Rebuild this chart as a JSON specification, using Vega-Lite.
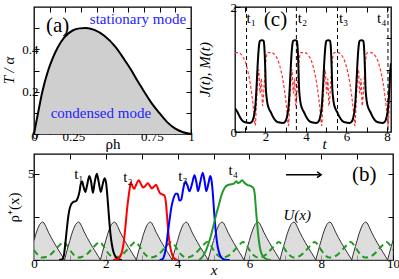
{
"$schema": "https://vega.github.io/schema/vega-lite/v6.json",
"padding": {"left": 0, "top": 0, "right": 0, "bottom": 0},
"background": "white",
"config": {
  "view": {"stroke": "black", "strokeWidth": 1.3},
  "font": "Liberation Serif",
  "axis": {"domain": false, "grid": false, "tickSize": -5, "tickColor": "black", "tickWidth": 1, "labelFont": "Liberation Serif", "labelFontSize": 13, "labelColor": "black", "labelPadding": 2, "titleFont": "Liberation Serif", "titleFontSize": 15, "titleFontWeight": "normal", "titleColor": "black", "labelOverlap": false, "labelFlush": false}
},
"datasets": {
  "phase": [{"x":0,"y":0},{"x":0.01,"y":0.04},{"x":0.026,"y":0.1},{"x":0.053,"y":0.2},{"x":0.09,"y":0.3},{"x":0.12,"y":0.36},{"x":0.151,"y":0.409},{"x":0.193,"y":0.457},{"x":0.246,"y":0.489},{"x":0.29,"y":0.499},{"x":0.33,"y":0.501},{"x":0.384,"y":0.492},{"x":0.448,"y":0.464},{"x":0.52,"y":0.41},{"x":0.575,"y":0.352},{"x":0.621,"y":0.3},{"x":0.66,"y":0.25},{"x":0.702,"y":0.2},{"x":0.75,"y":0.145},{"x":0.798,"y":0.1},{"x":0.85,"y":0.055},{"x":0.9,"y":0.025},{"x":0.95,"y":0.008},{"x":1,"y":0}],
  "J": [{"x":0.5,"y":0.38},{"x":0.62,"y":0.32},{"x":0.74,"y":0.24},{"x":0.87,"y":0.18},{"x":1.01,"y":0.155},{"x":1.14,"y":0.147},{"x":1.23,"y":0.145},{"x":1.31,"y":0.155},{"x":1.38,"y":0.19},{"x":1.43,"y":0.25},{"x":1.48,"y":0.34},{"x":1.52,"y":0.48},{"x":1.56,"y":0.7},{"x":1.61,"y":1.02},{"x":1.66,"y":1.29},{"x":1.7,"y":1.42},{"x":1.73,"y":1.46},{"x":1.83,"y":1.47},{"x":1.91,"y":1.46},{"x":1.94,"y":1.4},{"x":1.97,"y":1.22},{"x":2.0,"y":0.95},{"x":2.02,"y":0.72},{"x":2.06,"y":0.55},{"x":2.11,"y":0.44},{"x":2.18,"y":0.37},{"x":2.26,"y":0.32},{"x":2.38,"y":0.24},{"x":2.51,"y":0.18},{"x":2.65,"y":0.155},{"x":2.78,"y":0.147},{"x":2.87,"y":0.145},
    {"x":2.95,"y":0.155},{"x":3.02,"y":0.19},{"x":3.07,"y":0.25},{"x":3.12,"y":0.34},{"x":3.16,"y":0.48},{"x":3.2,"y":0.7},{"x":3.25,"y":1.02},{"x":3.3,"y":1.29},{"x":3.34,"y":1.42},{"x":3.37,"y":1.46},{"x":3.47,"y":1.47},{"x":3.55,"y":1.46},{"x":3.58,"y":1.4},{"x":3.61,"y":1.22},{"x":3.64,"y":0.95},{"x":3.66,"y":0.72},{"x":3.7,"y":0.55},{"x":3.75,"y":0.44},{"x":3.82,"y":0.37},{"x":3.9,"y":0.32},{"x":4.02,"y":0.24},{"x":4.15,"y":0.18},{"x":4.29,"y":0.155},{"x":4.42,"y":0.147},{"x":4.51,"y":0.145},
    {"x":4.59,"y":0.155},{"x":4.66,"y":0.19},{"x":4.71,"y":0.25},{"x":4.76,"y":0.34},{"x":4.8,"y":0.48},{"x":4.84,"y":0.7},{"x":4.89,"y":1.02},{"x":4.94,"y":1.29},{"x":4.98,"y":1.42},{"x":5.01,"y":1.46},{"x":5.11,"y":1.47},{"x":5.19,"y":1.46},{"x":5.22,"y":1.4},{"x":5.25,"y":1.22},{"x":5.28,"y":0.95},{"x":5.3,"y":0.72},{"x":5.34,"y":0.55},{"x":5.39,"y":0.44},{"x":5.46,"y":0.37},{"x":5.54,"y":0.32},{"x":5.66,"y":0.24},{"x":5.79,"y":0.18},{"x":5.93,"y":0.155},{"x":6.06,"y":0.147},{"x":6.15,"y":0.145},
    {"x":6.23,"y":0.155},{"x":6.3,"y":0.19},{"x":6.35,"y":0.25},{"x":6.4,"y":0.34},{"x":6.44,"y":0.48},{"x":6.48,"y":0.7},{"x":6.53,"y":1.02},{"x":6.58,"y":1.29},{"x":6.62,"y":1.42},{"x":6.65,"y":1.46},{"x":6.75,"y":1.47},{"x":6.83,"y":1.46},{"x":6.86,"y":1.4},{"x":6.89,"y":1.22},{"x":6.92,"y":0.95},{"x":6.94,"y":0.72},{"x":6.98,"y":0.55},{"x":7.03,"y":0.44},{"x":7.1,"y":0.37},{"x":7.18,"y":0.32},{"x":7.3,"y":0.24},{"x":7.43,"y":0.18},{"x":7.57,"y":0.155},{"x":7.7,"y":0.147},{"x":7.79,"y":0.145},
    {"x":7.87,"y":0.155},{"x":7.94,"y":0.19},{"x":7.99,"y":0.25},{"x":8.04,"y":0.34},{"x":8.08,"y":0.48},{"x":8.12,"y":0.7},{"x":8.16,"y":0.95},{"x":8.2,"y":1.1}],
  "M": [{"x":0.5,"y":1.27},{"x":0.66,"y":1.27},{"x":0.86,"y":1.22},{"x":1.01,"y":1.12},{"x":1.13,"y":0.98},{"x":1.24,"y":0.8},{"x":1.33,"y":0.6},{"x":1.41,"y":0.38},{"x":1.46,"y":0.2},{"x":1.5,"y":0.1},
    {"x":1.55,"y":0.4},{"x":1.6,"y":0.72},{"x":1.67,"y":1.0},{"x":1.74,"y":0.62},{"x":1.8,"y":0.85},{"x":1.86,"y":0.42},{"x":1.93,"y":0.7},{"x":2.0,"y":1.05},{"x":2.06,"y":1.22},{"x":2.12,"y":1.27},{"x":2.3,"y":1.27},{"x":2.5,"y":1.22},{"x":2.65,"y":1.12},{"x":2.77,"y":0.98},{"x":2.88,"y":0.8},{"x":2.97,"y":0.6},{"x":3.05,"y":0.38},{"x":3.1,"y":0.2},{"x":3.14,"y":0.1},
    {"x":3.19,"y":0.4},{"x":3.24,"y":0.72},{"x":3.31,"y":1.0},{"x":3.38,"y":0.62},{"x":3.44,"y":0.85},{"x":3.5,"y":0.42},{"x":3.57,"y":0.7},{"x":3.64,"y":1.05},{"x":3.7,"y":1.22},{"x":3.76,"y":1.27},{"x":3.94,"y":1.27},{"x":4.14,"y":1.22},{"x":4.29,"y":1.12},{"x":4.41,"y":0.98},{"x":4.52,"y":0.8},{"x":4.61,"y":0.6},{"x":4.69,"y":0.38},{"x":4.74,"y":0.2},{"x":4.78,"y":0.1},
    {"x":4.83,"y":0.4},{"x":4.88,"y":0.72},{"x":4.95,"y":1.0},{"x":5.02,"y":0.62},{"x":5.08,"y":0.85},{"x":5.14,"y":0.42},{"x":5.21,"y":0.7},{"x":5.28,"y":1.05},{"x":5.34,"y":1.22},{"x":5.4,"y":1.27},{"x":5.58,"y":1.27},{"x":5.78,"y":1.22},{"x":5.93,"y":1.12},{"x":6.05,"y":0.98},{"x":6.16,"y":0.8},{"x":6.25,"y":0.6},{"x":6.33,"y":0.38},{"x":6.38,"y":0.2},{"x":6.42,"y":0.1},
    {"x":6.47,"y":0.4},{"x":6.52,"y":0.72},{"x":6.59,"y":1.0},{"x":6.66,"y":0.62},{"x":6.72,"y":0.85},{"x":6.78,"y":0.42},{"x":6.85,"y":0.7},{"x":6.92,"y":1.05},{"x":6.98,"y":1.22},{"x":7.04,"y":1.27},{"x":7.22,"y":1.27},{"x":7.42,"y":1.22},{"x":7.57,"y":1.12},{"x":7.69,"y":0.98},{"x":7.8,"y":0.8},{"x":7.89,"y":0.6},{"x":7.97,"y":0.38},{"x":8.02,"y":0.2},{"x":8.06,"y":0.1},
    {"x":8.11,"y":0.4},{"x":8.16,"y":0.72},{"x":8.23,"y":1.0}],
  "U": [{"x":0,"y":1.13},{"x":0.05,"y":1.5},{"x":0.11,"y":1.85},{"x":0.16,"y":2.07},{"x":0.21,"y":2.18},{"x":0.24,"y":2.2},{"x":0.28,"y":2.15},{"x":0.33,"y":1.95},{"x":0.4,"y":1.62},{"x":0.48,"y":1.3},{"x":0.56,"y":1.0},{"x":0.64,"y":0.72},{"x":0.72,"y":0.45},{"x":0.8,"y":0.18},{"x":0.85,"y":0},{"x":0.9,"y":0.4},{"x":0.95,"y":0.78},
    {"x":1,"y":1.13},{"x":1.05,"y":1.5},{"x":1.11,"y":1.85},{"x":1.16,"y":2.07},{"x":1.21,"y":2.18},{"x":1.24,"y":2.2},{"x":1.28,"y":2.15},{"x":1.33,"y":1.95},{"x":1.4,"y":1.62},{"x":1.48,"y":1.3},{"x":1.56,"y":1.0},{"x":1.64,"y":0.72},{"x":1.72,"y":0.45},{"x":1.8,"y":0.18},{"x":1.85,"y":0},{"x":1.9,"y":0.4},{"x":1.95,"y":0.78},
    {"x":2,"y":1.13},{"x":2.05,"y":1.5},{"x":2.11,"y":1.85},{"x":2.16,"y":2.07},{"x":2.21,"y":2.18},{"x":2.24,"y":2.2},{"x":2.28,"y":2.15},{"x":2.33,"y":1.95},{"x":2.4,"y":1.62},{"x":2.48,"y":1.3},{"x":2.56,"y":1.0},{"x":2.64,"y":0.72},{"x":2.72,"y":0.45},{"x":2.8,"y":0.18},{"x":2.85,"y":0},{"x":2.9,"y":0.4},{"x":2.95,"y":0.78},
    {"x":3,"y":1.13},{"x":3.05,"y":1.5},{"x":3.11,"y":1.85},{"x":3.16,"y":2.07},{"x":3.21,"y":2.18},{"x":3.24,"y":2.2},{"x":3.28,"y":2.15},{"x":3.33,"y":1.95},{"x":3.4,"y":1.62},{"x":3.48,"y":1.3},{"x":3.56,"y":1.0},{"x":3.64,"y":0.72},{"x":3.72,"y":0.45},{"x":3.8,"y":0.18},{"x":3.85,"y":0},{"x":3.9,"y":0.4},{"x":3.95,"y":0.78},
    {"x":4,"y":1.13},{"x":4.05,"y":1.5},{"x":4.11,"y":1.85},{"x":4.16,"y":2.07},{"x":4.21,"y":2.18},{"x":4.24,"y":2.2},{"x":4.28,"y":2.15},{"x":4.33,"y":1.95},{"x":4.4,"y":1.62},{"x":4.48,"y":1.3},{"x":4.56,"y":1.0},{"x":4.64,"y":0.72},{"x":4.72,"y":0.45},{"x":4.8,"y":0.18},{"x":4.85,"y":0},{"x":4.9,"y":0.4},{"x":4.95,"y":0.78},
    {"x":5,"y":1.13},{"x":5.05,"y":1.5},{"x":5.11,"y":1.85},{"x":5.16,"y":2.07},{"x":5.21,"y":2.18},{"x":5.24,"y":2.2},{"x":5.28,"y":2.15},{"x":5.33,"y":1.95},{"x":5.4,"y":1.62},{"x":5.48,"y":1.3},{"x":5.56,"y":1.0},{"x":5.64,"y":0.72},{"x":5.72,"y":0.45},{"x":5.8,"y":0.18},{"x":5.85,"y":0},{"x":5.9,"y":0.4},{"x":5.95,"y":0.78},
    {"x":6,"y":1.13},{"x":6.05,"y":1.5},{"x":6.11,"y":1.85},{"x":6.16,"y":2.07},{"x":6.21,"y":2.18},{"x":6.24,"y":2.2},{"x":6.28,"y":2.15},{"x":6.33,"y":1.95},{"x":6.4,"y":1.62},{"x":6.48,"y":1.3},{"x":6.56,"y":1.0},{"x":6.64,"y":0.72},{"x":6.72,"y":0.45},{"x":6.8,"y":0.18},{"x":6.85,"y":0},{"x":6.9,"y":0.4},{"x":6.95,"y":0.78},
    {"x":7,"y":1.13},{"x":7.05,"y":1.5},{"x":7.11,"y":1.85},{"x":7.16,"y":2.07},{"x":7.21,"y":2.18},{"x":7.24,"y":2.2},{"x":7.28,"y":2.15},{"x":7.33,"y":1.95},{"x":7.4,"y":1.62},{"x":7.48,"y":1.3},{"x":7.56,"y":1.0},{"x":7.64,"y":0.72},{"x":7.72,"y":0.45},{"x":7.8,"y":0.18},{"x":7.85,"y":0},{"x":7.9,"y":0.4},{"x":7.95,"y":0.78},
    {"x":8,"y":1.13},{"x":8.05,"y":1.5},{"x":8.11,"y":1.85},{"x":8.16,"y":2.07},{"x":8.21,"y":2.18},{"x":8.24,"y":2.2},{"x":8.28,"y":2.15},{"x":8.33,"y":1.95},{"x":8.4,"y":1.62},{"x":8.48,"y":1.3},{"x":8.56,"y":1.0},{"x":8.64,"y":0.72},{"x":8.72,"y":0.45},{"x":8.8,"y":0.18},{"x":8.85,"y":0},{"x":8.9,"y":0.4},{"x":8.95,"y":0.78},
    {"x":9,"y":1.13},{"x":9.05,"y":1.5},{"x":9.11,"y":1.85},{"x":9.16,"y":2.07},{"x":9.21,"y":2.18},{"x":9.24,"y":2.2},{"x":9.28,"y":2.15},{"x":9.33,"y":1.95},{"x":9.4,"y":1.62},{"x":9.48,"y":1.3},{"x":9.56,"y":1.0},{"x":9.64,"y":0.72},{"x":9.72,"y":0.45},{"x":9.8,"y":0.18},{"x":9.85,"y":0},{"x":9.9,"y":0.4},{"x":9.95,"y":0.78},{"x":10,"y":1.13}],
  "G": [{"x":0,"y":0.58},
    {"x":0.02,"y":0.52},{"x":0.12,"y":0.27},{"x":0.23,"y":0.14},{"x":0.33,"y":0.17},{"x":0.43,"y":0.27},{"x":0.53,"y":0.45},{"x":0.63,"y":0.68},{"x":0.73,"y":0.9},{"x":0.82,"y":1.05},{"x":0.92,"y":0.85},
    {"x":1.02,"y":0.52},{"x":1.12,"y":0.27},{"x":1.23,"y":0.14},{"x":1.33,"y":0.17},{"x":1.43,"y":0.27},{"x":1.53,"y":0.45},{"x":1.63,"y":0.68},{"x":1.73,"y":0.9},{"x":1.82,"y":1.05},{"x":1.92,"y":0.85},
    {"x":2.02,"y":0.52},{"x":2.12,"y":0.27},{"x":2.23,"y":0.14},{"x":2.33,"y":0.17},{"x":2.43,"y":0.27},{"x":2.53,"y":0.45},{"x":2.63,"y":0.68},{"x":2.73,"y":0.9},{"x":2.82,"y":1.05},{"x":2.92,"y":0.85},
    {"x":3.02,"y":0.52},{"x":3.12,"y":0.27},{"x":3.23,"y":0.14},{"x":3.33,"y":0.17},{"x":3.43,"y":0.27},{"x":3.53,"y":0.45},{"x":3.63,"y":0.68},{"x":3.73,"y":0.9},{"x":3.82,"y":1.05},{"x":3.92,"y":0.85},
    {"x":4.02,"y":0.52},{"x":4.12,"y":0.27},{"x":4.23,"y":0.14},{"x":4.33,"y":0.17},{"x":4.43,"y":0.27},{"x":4.53,"y":0.45},{"x":4.63,"y":0.68},{"x":4.73,"y":0.9},{"x":4.82,"y":1.05},{"x":4.92,"y":0.85},
    {"x":5.02,"y":0.52},{"x":5.12,"y":0.27},{"x":5.23,"y":0.14},{"x":5.33,"y":0.17},{"x":5.43,"y":0.27},{"x":5.53,"y":0.45},{"x":5.63,"y":0.68},{"x":5.73,"y":0.9},{"x":5.82,"y":1.05},{"x":5.92,"y":0.85},
    {"x":6.02,"y":0.52},{"x":6.12,"y":0.27},{"x":6.23,"y":0.14},{"x":6.33,"y":0.17},{"x":6.43,"y":0.27},{"x":6.53,"y":0.45},{"x":6.63,"y":0.68},{"x":6.73,"y":0.9},{"x":6.82,"y":1.05},{"x":6.92,"y":0.85},
    {"x":7.02,"y":0.52},{"x":7.12,"y":0.27},{"x":7.23,"y":0.14},{"x":7.33,"y":0.17},{"x":7.43,"y":0.27},{"x":7.53,"y":0.45},{"x":7.63,"y":0.68},{"x":7.73,"y":0.9},{"x":7.82,"y":1.05},{"x":7.92,"y":0.85},
    {"x":8.02,"y":0.52},{"x":8.12,"y":0.27},{"x":8.23,"y":0.14},{"x":8.33,"y":0.17},{"x":8.43,"y":0.27},{"x":8.53,"y":0.45},{"x":8.63,"y":0.68},{"x":8.73,"y":0.9},{"x":8.82,"y":1.05},{"x":8.92,"y":0.85},
    {"x":9.02,"y":0.52},{"x":9.12,"y":0.27},{"x":9.23,"y":0.14},{"x":9.33,"y":0.17},{"x":9.43,"y":0.27},{"x":9.53,"y":0.45},{"x":9.63,"y":0.68},{"x":9.73,"y":0.9},{"x":9.82,"y":1.05},{"x":9.92,"y":0.85},{"x":10,"y":0.58}],
  "rho": [
    {"s":"t1","x":0.7,"y":0},{"s":"t1","x":0.78,"y":0.03},{"s":"t1","x":0.83,"y":0.25},{"s":"t1","x":0.87,"y":0.9},{"s":"t1","x":0.91,"y":1.7},{"s":"t1","x":0.95,"y":2.45},{"s":"t1","x":0.99,"y":2.95},{"s":"t1","x":1.04,"y":3.25},{"s":"t1","x":1.1,"y":3.38},{"s":"t1","x":1.17,"y":3.42},{"s":"t1","x":1.22,"y":3.6},{"s":"t1","x":1.27,"y":4.0},{"s":"t1","x":1.3,"y":4.4},{"s":"t1","x":1.34,"y":4.55},{"s":"t1","x":1.38,"y":4.25},{"s":"t1","x":1.43,"y":3.95},{"s":"t1","x":1.48,"y":4.35},{"s":"t1","x":1.54,"y":4.87},{"s":"t1","x":1.59,"y":4.55},{"s":"t1","x":1.64,"y":3.9},{"s":"t1","x":1.69,"y":4.5},{"s":"t1","x":1.75,"y":5.0},{"s":"t1","x":1.8,"y":4.55},{"s":"t1","x":1.86,"y":3.95},{"s":"t1","x":1.92,"y":4.45},{"s":"t1","x":1.97,"y":4.75},{"s":"t1","x":2.01,"y":4.45},{"s":"t1","x":2.04,"y":3.8},{"s":"t1","x":2.07,"y":3.0},{"s":"t1","x":2.1,"y":2.2},{"s":"t1","x":2.13,"y":1.5},{"s":"t1","x":2.17,"y":0.9},{"s":"t1","x":2.21,"y":0.5},{"s":"t1","x":2.27,"y":0.2},{"s":"t1","x":2.34,"y":0.05},{"s":"t1","x":2.45,"y":0},
    {"s":"t2","x":2.2,"y":0},{"s":"t2","x":2.33,"y":0.05},{"s":"t2","x":2.4,"y":0.2},{"s":"t2","x":2.46,"y":0.55},{"s":"t2","x":2.51,"y":1.2},{"s":"t2","x":2.55,"y":2.0},{"s":"t2","x":2.59,"y":2.9},{"s":"t2","x":2.63,"y":3.6},{"s":"t2","x":2.67,"y":4.2},{"s":"t2","x":2.7,"y":4.5},{"s":"t2","x":2.74,"y":4.3},{"s":"t2","x":2.79,"y":4.12},{"s":"t2","x":2.85,"y":4.4},{"s":"t2","x":2.92,"y":4.62},{"s":"t2","x":2.98,"y":4.4},{"s":"t2","x":3.04,"y":4.2},{"s":"t2","x":3.1,"y":4.3},{"s":"t2","x":3.17,"y":4.45},{"s":"t2","x":3.23,"y":4.3},{"s":"t2","x":3.28,"y":4.15},{"s":"t2","x":3.34,"y":4.25},{"s":"t2","x":3.4,"y":4.37},{"s":"t2","x":3.45,"y":4.15},{"s":"t2","x":3.5,"y":3.9},{"s":"t2","x":3.58,"y":3.8},{"s":"t2","x":3.63,"y":3.75},{"s":"t2","x":3.67,"y":3.4},{"s":"t2","x":3.7,"y":2.7},{"s":"t2","x":3.73,"y":1.9},{"s":"t2","x":3.76,"y":1.25},{"s":"t2","x":3.8,"y":0.7},{"s":"t2","x":3.85,"y":0.3},{"s":"t2","x":3.91,"y":0.08},{"s":"t2","x":4.0,"y":0},
    {"s":"t3","x":3.5,"y":0},{"s":"t3","x":3.58,"y":0.05},{"s":"t3","x":3.64,"y":0.35},{"s":"t3","x":3.69,"y":0.9},{"s":"t3","x":3.73,"y":1.6},{"s":"t3","x":3.78,"y":2.4},{"s":"t3","x":3.83,"y":3.1},{"s":"t3","x":3.89,"y":3.6},{"s":"t3","x":3.95,"y":3.85},{"s":"t3","x":4.0,"y":3.85},{"s":"t3","x":4.05,"y":3.45},{"s":"t3","x":4.1,"y":3.5},{"s":"t3","x":4.15,"y":4.05},{"s":"t3","x":4.21,"y":4.53},{"s":"t3","x":4.27,"y":4.35},{"s":"t3","x":4.33,"y":3.99},{"s":"t3","x":4.4,"y":4.4},{"s":"t3","x":4.47,"y":4.91},{"s":"t3","x":4.52,"y":4.55},{"s":"t3","x":4.57,"y":3.99},{"s":"t3","x":4.63,"y":4.5},{"s":"t3","x":4.7,"y":5.06},{"s":"t3","x":4.75,"y":4.6},{"s":"t3","x":4.8,"y":3.99},{"s":"t3","x":4.86,"y":4.45},{"s":"t3","x":4.91,"y":4.87},{"s":"t3","x":4.95,"y":4.55},{"s":"t3","x":4.98,"y":3.9},{"s":"t3","x":5.01,"y":3.0},{"s":"t3","x":5.04,"y":2.2},{"s":"t3","x":5.07,"y":1.5},{"s":"t3","x":5.11,"y":0.85},{"s":"t3","x":5.16,"y":0.4},{"s":"t3","x":5.23,"y":0.12},{"s":"t3","x":5.32,"y":0.02},{"s":"t3","x":5.45,"y":0},
    {"s":"t4","x":4.6,"y":0},{"s":"t4","x":4.7,"y":0.2},{"s":"t4","x":4.8,"y":0.6},{"s":"t4","x":4.9,"y":1.2},{"s":"t4","x":5.0,"y":2.0},{"s":"t4","x":5.07,"y":2.6},{"s":"t4","x":5.15,"y":3.2},{"s":"t4","x":5.22,"y":3.75},{"s":"t4","x":5.3,"y":4.15},{"s":"t4","x":5.4,"y":4.35},{"s":"t4","x":5.5,"y":4.4},{"s":"t4","x":5.58,"y":4.45},{"s":"t4","x":5.63,"y":4.57},{"s":"t4","x":5.68,"y":4.47},{"s":"t4","x":5.74,"y":4.52},{"s":"t4","x":5.8,"y":4.63},{"s":"t4","x":5.86,"y":4.48},{"s":"t4","x":5.95,"y":4.35},{"s":"t4","x":6.05,"y":4.28},{"s":"t4","x":6.11,"y":4.18},{"s":"t4","x":6.15,"y":3.8},{"s":"t4","x":6.18,"y":3.0},{"s":"t4","x":6.22,"y":2.0},{"s":"t4","x":6.26,"y":1.2},{"s":"t4","x":6.31,"y":0.55},{"s":"t4","x":6.38,"y":0.2},{"s":"t4","x":6.48,"y":0.05},{"s":"t4","x":6.6,"y":0}]
},
"spacing": 0,
"vconcat": [
 {"hconcat": [
  {"width": 157, "height": 127,
   "layer": [
    {"data": {"name": "phase"}, "mark": {"type": "area", "color": "#cfcfcf", "interpolate": "monotone"},
     "encoding": {
      "x": {"field": "x", "type": "quantitative", "scale": {"domain": [0, 1], "nice": false},
        "axis": {"orient": "bottom", "values": [0,0.1,0.2,0.25,0.3,0.4,0.5,0.6,0.7,0.75,0.8,0.9,1], "format": ".2~f", "labelPadding": 1, "labelExpr": "(datum.value==0||datum.value==0.25||datum.value==0.75||datum.value==1)?datum.label:''", "title": "ρh", "titleY": 14, "titleBaseline": "alphabetic"}},
      "y": {"field": "y", "type": "quantitative", "scale": {"domain": [0, 0.6], "nice": false},
        "axis": {"orient": "left", "values": [0,0.1,0.2,0.3,0.4,0.5], "format": ".1~f", "labelPadding": 1, "labelExpr": "(datum.value==0||datum.value==0.2||datum.value==0.4)?datum.label:''", "title": "T / α", "titleFontStyle": "italic", "titleX": -18, "titleY": 63}}}},
    {"data": {"name": "phase"}, "mark": {"type": "line", "color": "black", "strokeWidth": 2, "interpolate": "monotone"},
     "encoding": {
      "x": {"field": "x", "type": "quantitative", "scale": {"domain": [0, 1], "nice": false},
        "axis": {"orient": "top", "values": [0.1,0.2,0.3,0.4,0.5,0.6,0.7,0.8,0.9], "labels": false, "title": null}},
      "y": {"field": "y", "type": "quantitative", "scale": {"domain": [0, 0.6], "nice": false},
        "axis": {"orient": "right", "values": [0.1,0.2,0.3,0.4,0.5], "labels": false, "title": null}}}},
    {"data": {"values": [{"x": 0.15, "y": 0.51, "t": "(a)"}]}, "mark": {"type": "text", "font": "Liberation Serif", "fontSize": 21, "color": "black", "baseline": "middle"},
     "encoding": {"x": {"field": "x", "type": "quantitative", "axis": null}, "y": {"field": "y", "type": "quantitative", "axis": null}, "text": {"field": "t"}}},
    {"data": {"values": [{"x": 0.662, "y": 0.545, "t": "stationary mode"}, {"x": 0.426, "y": 0.101, "t": "condensed mode"}]}, "mark": {"type": "text", "font": "Liberation Serif", "fontSize": 15, "color": "#2222ff", "baseline": "middle"},
     "encoding": {"x": {"field": "x", "type": "quantitative", "axis": null}, "y": {"field": "y", "type": "quantitative", "axis": null}, "text": {"field": "t"}}}
   ],
   "resolve": {"axis": {"x": "independent", "y": "independent"}}
  },
  {"width": 156, "height": 125,
   "layer": [
    {"data": {"values": [{"x": 1.07}, {"x": 3.53}, {"x": 5.56}, {"x": 8.05}]}, "mark": {"type": "rule", "color": "black", "strokeWidth": 1, "strokeDash": [4, 3]},
     "encoding": {
      "x": {"field": "x", "type": "quantitative", "scale": {"domain": [0.5, 8.2], "nice": false, "zero": false},
        "axis": {"orient": "bottom", "values": [1,2,3,4,5,6,7,8], "format": "d", "labelPadding": 3, "labelExpr": "datum.value % 2 == 0 ? datum.label : ''", "title": "t", "titleFontStyle": "italic", "titleX": 89, "titleY": 16, "titleBaseline": "alphabetic"}}}},
    {"data": {"name": "M"}, "mark": {"type": "line", "color": "#ff3030", "strokeWidth": 1.2, "strokeDash": [3, 2], "interpolate": "monotone", "clip": true},
     "encoding": {
      "x": {"field": "x", "type": "quantitative", "scale": {"domain": [0.5, 8.2], "nice": false, "zero": false}, "axis": null},
      "y": {"field": "y", "type": "quantitative", "scale": {"domain": [0, 2], "nice": false},
        "axis": {"orient": "left", "values": [0,0.5,1,1.5,2], "format": "d", "labelPadding": 3.5, "labelExpr": "datum.value % 1 == 0 ? datum.label : ''", "title": "J(t), M(t)", "titleFontStyle": "italic", "titleX": -23, "titleY": 62}}}},
    {"data": {"name": "J"}, "mark": {"type": "line", "color": "black", "strokeWidth": 2, "interpolate": "monotone", "clip": true},
     "encoding": {
      "x": {"field": "x", "type": "quantitative", "scale": {"domain": [0.5, 8.2], "nice": false, "zero": false},
        "axis": {"orient": "top", "values": [1,2,3,4,5,6,7,8], "labels": false, "title": null}},
      "y": {"field": "y", "type": "quantitative", "scale": {"domain": [0, 2], "nice": false},
        "axis": {"orient": "right", "values": [0.5,1,1.5], "labels": false, "title": null}}}},
    {"data": {"values": [{"x": 2.5, "y": 1.79, "t": "(c)"}]}, "mark": {"type": "text", "font": "Liberation Serif", "fontSize": 21, "color": "black", "baseline": "middle"},
     "encoding": {"x": {"field": "x", "type": "quantitative", "axis": null}, "y": {"field": "y", "type": "quantitative", "axis": null}, "text": {"field": "t"}}},
    {"data": {"values": [{"x": 1.3, "y": 1.74, "t": "t₁"}, {"x": 3.83, "y": 1.74, "t": "t₂"}, {"x": 5.86, "y": 1.74, "t": "t₃"}, {"x": 7.74, "y": 1.74, "t": "t₄"}]}, "mark": {"type": "text", "font": "Liberation Serif", "fontSize": 15, "color": "black", "baseline": "alphabetic"},
     "encoding": {"x": {"field": "x", "type": "quantitative", "axis": null}, "y": {"field": "y", "type": "quantitative", "axis": null}, "text": {"field": "t"}}}
   ],
   "resolve": {"axis": {"x": "independent", "y": "independent"}}
  }
 ], "spacing": 0},
 {"width": 359, "height": 106,
  "layer": [
   {"data": {"name": "U"}, "mark": {"type": "area", "color": "#cfcfcf", "line": {"color": "#333333", "strokeWidth": 1}, "clip": true},
    "encoding": {
     "x": {"field": "x", "type": "quantitative", "scale": {"domain": [0, 10], "nice": false},
       "axis": {"orient": "bottom", "values": [0,1,2,3,4,5,6,7,8,9,10], "format": "d", "labelPadding": 2, "labelExpr": "datum.value % 2 == 0 ? datum.label : ''", "title": "x", "titleFontStyle": "italic", "titleY": 14, "titleBaseline": "alphabetic"}},
     "y": {"field": "y", "type": "quantitative", "scale": {"domain": [0, 6.15], "nice": false},
       "axis": {"orient": "left", "values": [0, 2.5, 5], "format": "d", "labelPadding": 5, "labelExpr": "datum.value == 5 ? datum.label : ''", "title": "ρ⁺(x)", "titleX": -13, "titleY": 53}}}},
   {"data": {"name": "G"}, "mark": {"type": "line", "color": "#1f9a1f", "strokeWidth": 2, "strokeDash": [6, 4], "interpolate": "monotone", "clip": true},
    "encoding": {
     "x": {"field": "x", "type": "quantitative", "scale": {"domain": [0, 10], "nice": false},
       "axis": {"orient": "top", "values": [1,2,3,4,5,6,7,8,9], "labels": false, "title": null}},
     "y": {"field": "y", "type": "quantitative", "scale": {"domain": [0, 6.15], "nice": false},
       "axis": {"orient": "right", "values": [2.5, 5], "labels": false, "title": null}}}},
   {"data": {"name": "rho"}, "mark": {"type": "line", "strokeWidth": 2, "interpolate": "monotone", "clip": true},
    "encoding": {
     "x": {"field": "x", "type": "quantitative", "axis": null},
     "y": {"field": "y", "type": "quantitative", "axis": null},
     "color": {"field": "s", "type": "nominal", "scale": {"domain": ["t1","t2","t3","t4"], "range": ["black","#ff0000","#0000ff","#23992a"]}, "legend": null}}},
   {"data": {"values": [{"x": 1.25, "y": 4.7, "t": "t₁"}, {"x": 2.62, "y": 4.55, "t": "t₂"}, {"x": 4.15, "y": 4.6, "t": "t₃"}, {"x": 5.55, "y": 4.95, "t": "t₄"}]}, "mark": {"type": "text", "font": "Liberation Serif", "fontSize": 15, "color": "black", "baseline": "alphabetic"},
    "encoding": {"x": {"field": "x", "type": "quantitative", "axis": null}, "y": {"field": "y", "type": "quantitative", "axis": null}, "text": {"field": "t"}}},
   {"data": {"values": [{"x": 9.2, "y": 4.91, "t": "(b)"}]}, "mark": {"type": "text", "font": "Liberation Serif", "fontSize": 21, "color": "black", "baseline": "middle"},
    "encoding": {"x": {"field": "x", "type": "quantitative", "axis": null}, "y": {"field": "y", "type": "quantitative", "axis": null}, "text": {"field": "t"}}},
   {"data": {"values": [{"x": 7.33, "y": 2.6, "t": "U(x)"}]}, "mark": {"type": "text", "font": "Liberation Serif", "fontSize": 15, "fontStyle": "italic", "color": "black", "baseline": "middle"},
    "encoding": {"x": {"field": "x", "type": "quantitative", "axis": null}, "y": {"field": "y", "type": "quantitative", "axis": null}, "text": {"field": "t"}}},
   {"data": {"values": [{"x": 7.02, "x2": 7.98, "y": 4.95}]}, "mark": {"type": "rule", "color": "black", "strokeWidth": 1.5},
    "encoding": {"x": {"field": "x", "type": "quantitative", "axis": null}, "x2": {"field": "x2"}, "y": {"field": "y", "type": "quantitative", "axis": null}}},
   {"data": {"values": [{"x": 8.0, "y": 4.95}]}, "mark": {"type": "point", "shape": "M-1,-0.7L0,0L-1,0.7", "filled": false, "stroke": "black", "strokeWidth": 1.5, "size": 70, "opacity": 1},
    "encoding": {"x": {"field": "x", "type": "quantitative", "axis": null}, "y": {"field": "y", "type": "quantitative", "axis": null}}}
  ],
  "resolve": {"axis": {"x": "independent", "y": "independent"}}
 }
]
}
